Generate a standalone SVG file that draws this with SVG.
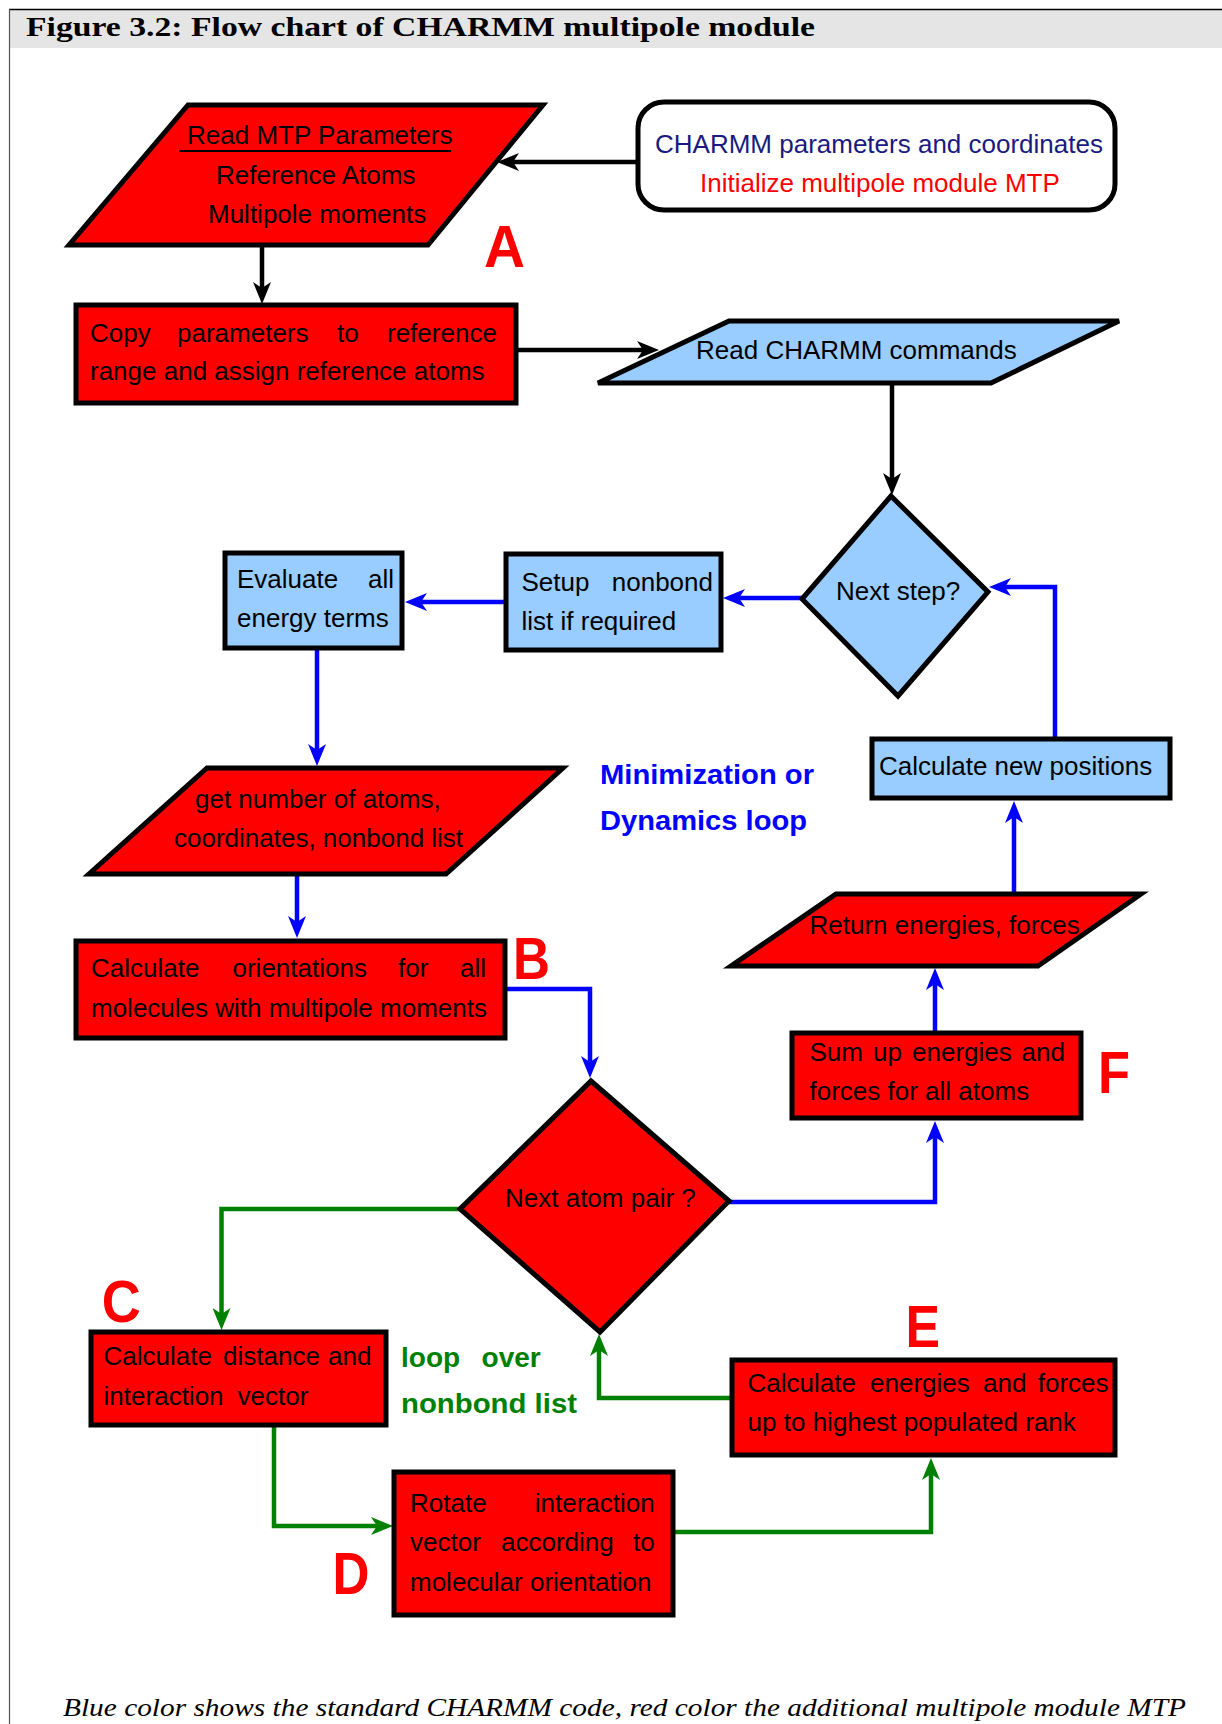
<svg xmlns="http://www.w3.org/2000/svg" width="1222" height="1724" viewBox="0 0 1222 1724">
<style>
.box{stroke:#000;stroke-width:5;stroke-linejoin:miter}
.red{fill:#ff0000}
.blu{fill:#99ccff}
.t{font-family:"Liberation Sans",Arial,sans-serif;font-size:26px;fill:#000}
.lab{font-family:"Liberation Sans",Arial,sans-serif;font-size:60px;font-weight:bold;fill:#ff0000}
.note{font-family:"Liberation Sans",Arial,sans-serif;font-size:28px;font-weight:bold}
.ck{fill:none;stroke:#000;stroke-width:4.5}
.cb{fill:none;stroke:#0000ff;stroke-width:4.5}
.cg{fill:none;stroke:#008000;stroke-width:4.5}
</style>
<defs>
<marker id="ak" viewBox="0 0 22 18" markerWidth="22" markerHeight="18" refX="14" refY="9" orient="auto" markerUnits="userSpaceOnUse"><path d="M0,0 L22,9 L0,18 L6,9 Z" fill="#000"/></marker>
<marker id="ab" viewBox="0 0 22 18" markerWidth="22" markerHeight="18" refX="14" refY="9" orient="auto" markerUnits="userSpaceOnUse"><path d="M0,0 L22,9 L0,18 L6,9 Z" fill="#0000ff"/></marker>
<marker id="ag" viewBox="0 0 22 18" markerWidth="22" markerHeight="18" refX="14" refY="9" orient="auto" markerUnits="userSpaceOnUse"><path d="M0,0 L22,9 L0,18 L6,9 Z" fill="#008000"/></marker>
</defs>
<rect x="0" y="0" width="1222" height="1724" fill="#fff"/>
<g id="frame">
<rect x="9" y="10" width="1213" height="38" fill="#e5e5e5"/>
<line x1="9" y1="9.5" x2="1222" y2="9.5" stroke="#000" stroke-width="1.5"/>
<line x1="9.5" y1="9" x2="9.5" y2="1724" stroke="#555" stroke-width="1.2"/>
<text x="26" y="36" font-family="'Liberation Serif','Times New Roman',serif" font-size="27" font-weight="bold" textLength="789" lengthAdjust="spacingAndGlyphs">Figure 3.2: Flow chart of CHARMM multipole module</text>
<text x="63" y="1716" font-family="'Liberation Serif','Times New Roman',serif" font-size="25" font-style="italic" textLength="1123" lengthAdjust="spacingAndGlyphs">Blue color shows the standard CHARMM code, red color the additional multipole module MTP</text>
</g>

<g id="connectors">
<path class="ck" d="M638,162 L505,162" marker-end="url(#ak)"/>
<path class="ck" d="M262,245 L262,296" marker-end="url(#ak)"/>
<path class="ck" d="M516,350 L651,350" marker-end="url(#ak)"/>
<path class="ck" d="M892,383 L892,487" marker-end="url(#ak)"/>
<path class="cb" d="M802,598 L731,598" marker-end="url(#ab)"/>
<path class="cb" d="M506,602 L413,602" marker-end="url(#ab)"/>
<path class="cb" d="M317,648 L317,758" marker-end="url(#ab)"/>
<path class="cb" d="M297,874 L297,930" marker-end="url(#ab)"/>
<path class="cb" d="M505,989 L590,989 L590,1070" marker-end="url(#ab)"/>
<path class="cb" d="M729,1202 L935,1202 L935,1129" marker-end="url(#ab)"/>
<path class="cb" d="M935,1033 L935,976" marker-end="url(#ab)"/>
<path class="cb" d="M1014,894 L1014,809" marker-end="url(#ab)"/>
<path class="cb" d="M1055,739 L1055,587 L997,587" marker-end="url(#ab)"/>
<path class="cg" d="M460,1209 L221.5,1209 L221.5,1322" marker-end="url(#ag)"/>
<path class="cg" d="M274,1425 L274,1526 L385,1526" marker-end="url(#ag)"/>
<path class="cg" d="M673,1532 L931,1532 L931,1466" marker-end="url(#ag)"/>
<path class="cg" d="M732,1398 L599,1398 L599,1342" marker-end="url(#ag)"/>
</g>

<g id="node-read-mtp">
<polygon class="box red" points="188,105 543,105 428,245 69,245"/>
<text class="t" x="187" y="144">Read MTP Parameters</text>
<line x1="179" y1="151" x2="451" y2="151" stroke="#000" stroke-width="2"/>
<text class="t" x="216" y="184">Reference Atoms</text>
<text class="t" x="208" y="223">Multipole moments</text>
<text class="lab" x="484" y="267" textLength="41" lengthAdjust="spacingAndGlyphs">A</text>
</g>

<g id="node-charmm-params">
<rect class="box" x="638" y="102" width="477" height="108" rx="26" fill="#fff"/>
<text class="t" x="655" y="153" style="fill:#1a1a80">CHARMM parameters and coordinates</text>
<text class="t" x="700" y="192" style="fill:#ff0000">Initialize multipole module MTP</text>
</g>

<g id="node-copy">
<rect class="box red" x="76" y="305" width="440" height="98"/>
<text class="t" y="342"><tspan x="90">Copy</tspan><tspan x="177">parameters</tspan><tspan x="337">to</tspan><tspan x="387">reference</tspan></text>
<text class="t" x="90" y="380">range and assign reference atoms</text>
</g>

<g id="node-read-charmm">
<polygon class="box blu" points="729,321 1119,321 991,383 598,383"/>
<text class="t" x="696" y="359">Read CHARMM commands</text>
</g>

<g id="node-next-step">
<polygon class="box blu" points="891,496 988,592 898,696 802,599"/>
<text class="t" x="836" y="600">Next step?</text>
</g>

<g id="node-setup">
<rect class="box blu" x="506" y="554" width="215" height="96"/>
<text class="t" x="521.5" y="591">Setup</text>
<text class="t" x="713" y="591" text-anchor="end">nonbond</text>
<text class="t" x="521.5" y="630">list if required</text>
</g>

<g id="node-evaluate">
<rect class="box blu" x="225" y="553" width="177" height="95"/>
<text class="t" x="237" y="588">Evaluate</text>
<text class="t" x="394" y="588" text-anchor="end">all</text>
<text class="t" x="237" y="627">energy terms</text>
</g>

<g id="node-new-positions">
<rect class="box blu" x="872" y="739" width="298" height="59"/>
<text class="t" x="879" y="775">Calculate new positions</text>
</g>

<g id="note-loop">
<text class="note" x="600" y="784" fill="#0000ff" textLength="214" lengthAdjust="spacingAndGlyphs">Minimization or</text>
<text class="note" x="600" y="830" fill="#0000ff" textLength="207" lengthAdjust="spacingAndGlyphs">Dynamics loop</text>
</g>

<g id="node-get-number">
<polygon class="box red" points="207,768 563,768 446,874 89,874"/>
<text class="t" x="195" y="808">get number of atoms,</text>
<text class="t" x="174" y="847">coordinates, nonbond list</text>
</g>

<g id="node-orientations">
<rect class="box red" x="76" y="941" width="429" height="97"/>
<text class="t" y="977"><tspan x="91">Calculate</tspan><tspan x="232.5">orientations</tspan><tspan x="398">for</tspan></text>
<text class="t" x="486" y="977" text-anchor="end">all</text>
<text class="t" x="91" y="1017">molecules with multipole moments</text>
<text class="lab" x="513" y="979" textLength="37" lengthAdjust="spacingAndGlyphs">B</text>
</g>

<g id="node-next-atom-pair">
<polygon class="box red" points="591,1081 729,1201 600,1332 460,1209"/>
<text class="t" x="505" y="1207">Next atom pair ?</text>
</g>

<g id="node-sum-up">
<rect class="box red" x="792" y="1033" width="289" height="85"/>
<text class="t" y="1061"><tspan x="809.5">Sum</tspan><tspan x="873">up</tspan><tspan x="912">energies</tspan></text>
<text class="t" x="1065" y="1061" text-anchor="end">and</text>
<text class="t" x="809.5" y="1100">forces for all atoms</text>
<text class="lab" x="1098" y="1093" textLength="32" lengthAdjust="spacingAndGlyphs">F</text>
</g>

<g id="node-return">
<polygon class="box red" points="836,894 1141,894 1038,966 731,966"/>
<text class="t" x="809.5" y="934">Return energies, forces</text>
</g>

<g id="node-distance">
<rect class="box red" x="91" y="1332" width="295" height="93"/>
<text class="t" y="1365"><tspan x="103.6">Calculate</tspan><tspan x="223">distance</tspan></text>
<text class="t" x="371.5" y="1365" text-anchor="end">and</text>
<text class="t" y="1405"><tspan x="103.6">interaction</tspan><tspan x="237.5">vector</tspan></text>
<text class="lab" x="101.7" y="1322" textLength="39" lengthAdjust="spacingAndGlyphs">C</text>
</g>

<g id="note-nonbond">
<text class="note" y="1367" fill="#008000"><tspan x="401">loop</tspan><tspan x="481.6">over</tspan></text>
<text class="note" x="401" y="1413" fill="#008000" textLength="176" lengthAdjust="spacingAndGlyphs">nonbond list</text>
</g>

<g id="node-rotate">
<rect class="box red" x="394" y="1472" width="279" height="143"/>
<text class="t" x="410" y="1512">Rotate</text>
<text class="t" x="654.7" y="1512" text-anchor="end">interaction</text>
<text class="t" y="1551"><tspan x="410">vector</tspan><tspan x="501">according</tspan></text>
<text class="t" x="654.7" y="1551" text-anchor="end">to</text>
<text class="t" x="410" y="1591">molecular orientation</text>
<text class="lab" x="332.4" y="1594" textLength="37" lengthAdjust="spacingAndGlyphs">D</text>
</g>

<g id="node-energies">
<rect class="box red" x="732" y="1360" width="383" height="95"/>
<text class="t" y="1392"><tspan x="747.6">Calculate</tspan><tspan x="870">energies</tspan><tspan x="983">and</tspan></text>
<text class="t" x="1108.6" y="1392" text-anchor="end">forces</text>
<text class="t" x="747.6" y="1431">up to highest populated rank</text>
<text class="lab" x="905.5" y="1347" textLength="34.5" lengthAdjust="spacingAndGlyphs">E</text>
</g>
</svg>
